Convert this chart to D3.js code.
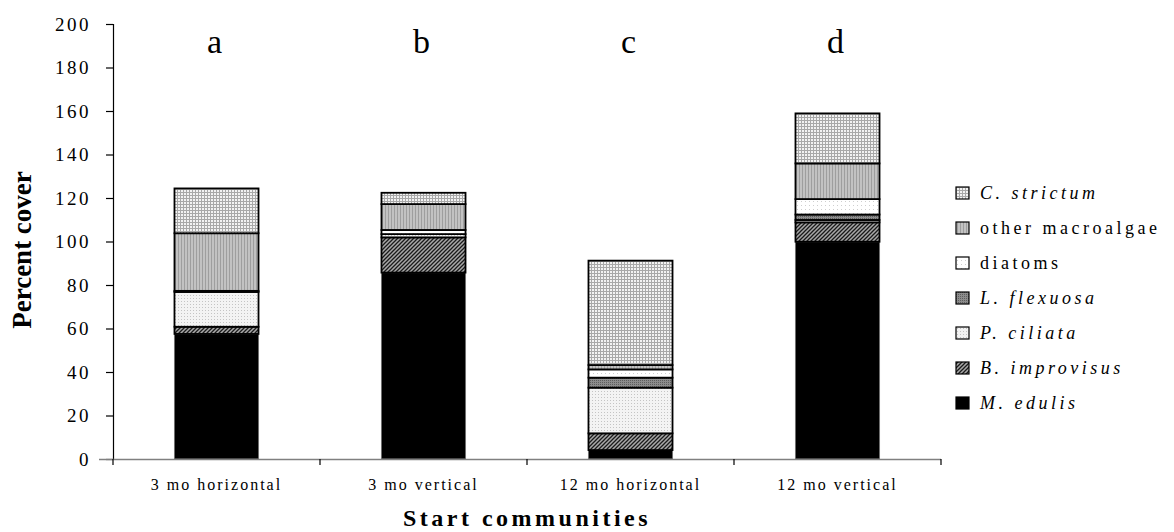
<!DOCTYPE html>
<html>
<head>
<meta charset="utf-8">
<script src="https://cdn.jsdelivr.net/npm/d3@7"></script>
<style>
  html, body { margin: 0; padding: 0; background: #fff; }
  svg { display: block; }
</style>
</head>
<body>
<svg id="chart" width="1174" height="532"></svg>
<script>
// Start communities and their group letters
const categories = ["3 mo horizontal", "3 mo vertical", "12 mo horizontal", "12 mo vertical"];
const groupLetters = ["a", "b", "c", "d"];

// Stacking order, bottom to top
const speciesKeys = ["M. edulis", "B. improvisus", "P. ciliata", "L. flexuosa", "diatoms", "other macroalgae", "C. strictum"];
const italicKeys = ["M. edulis", "B. improvisus", "P. ciliata", "L. flexuosa", "C. strictum"];

// Percent cover per start community
const mEdulis         = [57.5, 85.7,  4.1, 99.9];
const bImprovisus     = [ 3.3, 16.2,  7.7,  8.9];
const pCiliata        = [16.0,  1.5, 21.0,  1.1];
const lFlexuosa       = [ 0.0,  0.0,  4.6,  2.5];
const diatoms         = [ 0.5,  1.9,  3.8,  7.1];
const otherMacroalgae = [26.5, 11.9,  2.0, 16.4];
const cStrictum       = [20.6,  5.2, 48.0, 23.0];

const yTicks = [0, 20, 40, 60, 80, 100, 120, 140, 160, 180, 200];

const seriesValues = {
  "M. edulis": mEdulis,
  "B. improvisus": bImprovisus,
  "P. ciliata": pCiliata,
  "L. flexuosa": lFlexuosa,
  "diatoms": diatoms,
  "other macroalgae": otherMacroalgae,
  "C. strictum": cStrictum
};

const rows = categories.map((c, i) => {
  const r = { category: c };
  speciesKeys.forEach(k => { r[k] = seriesValues[k][i]; });
  return r;
});

const serif = "Liberation Serif";
const svg = d3.select("#chart").attr("font-family", serif);
const defs = svg.append("defs");

// Fill textures for each species
function pattern(id, w, h, bg, draw) {
  const p = defs.append("pattern").attr("id", id)
    .attr("width", w).attr("height", h).attr("patternUnits", "userSpaceOnUse");
  p.append("rect").attr("width", w).attr("height", h).attr("fill", bg);
  draw(p);
}
pattern("pat-bimp", 4, 4, "#a8a8a8", p => {
  p.append("path").attr("d", "M-1,1 L1,-1 M0,4 L4,0 M3,5 L5,3")
    .attr("stroke", "#1a1a1a").attr("stroke-width", 1.3);
});
pattern("pat-pcil", 3, 3, "#f3f3f3", p => {
  p.append("rect").attr("x", 1).attr("y", 1).attr("width", 1).attr("height", 1).attr("fill", "#c4c4c4");
});
pattern("pat-lflex", 2, 2, "#8c8c8c", p => {
  p.append("rect").attr("width", 1).attr("height", 1).attr("fill", "#5e5e5e");
});
pattern("pat-diat", 4, 4, "#ffffff", p => {
  p.append("rect").attr("x", 1).attr("y", 1).attr("width", 1).attr("height", 1).attr("fill", "#cfcfcf");
});
pattern("pat-other", 3, 3, "#c2c2c2", p => {
  p.append("rect").attr("x", 1).attr("width", 1).attr("height", 3).attr("fill", "#9e9e9e");
});
pattern("pat-cstr", 3, 3, "#f2f2f2", p => {
  p.append("path").attr("d", "M0,0.5 H3 M0.5,0 V3")
    .attr("stroke", "#a8a8a8").attr("stroke-width", 1);
});

const fills = {
  "M. edulis": "#000000",
  "B. improvisus": "url(#pat-bimp)",
  "P. ciliata": "url(#pat-pcil)",
  "L. flexuosa": "url(#pat-lflex)",
  "diatoms": "url(#pat-diat)",
  "other macroalgae": "url(#pat-other)",
  "C. strictum": "url(#pat-cstr)"
};

// Plot area
const x0 = 113, x1 = 941, yBottom = 459, yTop = 24;

const x = d3.scaleBand().domain(categories).range([x0, x1])
  .paddingInner(0.594).paddingOuter(0.297);
const y = d3.scaleLinear().domain([0, 200]).range([yBottom, yTop]);

const stacked = d3.stack().keys(speciesKeys)(rows);

// Bars
const layers = svg.append("g").selectAll("g").data(stacked).join("g")
  .attr("fill", d => fills[d.key])
  .attr("stroke", d => d.key === "M. edulis" ? "#707070" : "#000")
  .attr("stroke-width", d => d.key === "M. edulis" ? 1 : 1.8);

layers.selectAll("rect").data(d => d).join("rect")
  .attr("x", d => x(d.data.category))
  .attr("y", d => y(d[1]))
  .attr("width", x.bandwidth())
  .attr("height", d => Math.max(0, y(d[0]) - y(d[1])));

// Y axis
const yAxis = svg.append("g").attr("transform", `translate(${x0},0)`)
  .call(d3.axisLeft(y).tickValues(yTicks).tickSize(7).tickPadding(15))
  .attr("font-family", serif).attr("font-size", 19);
yAxis.select(".domain").attr("stroke", "#000").attr("stroke-width", 1.2);
yAxis.selectAll(".tick line").attr("stroke", "#000").attr("stroke-width", 1.2);
yAxis.selectAll(".tick text").attr("fill", "#000").attr("letter-spacing", 2.5);

// X axis with boundary ticks between bands
const step = x.step();
const xAxis = svg.append("g");
xAxis.append("line")
  .attr("x1", x0 - 14).attr("x2", x1)
  .attr("y1", yBottom + 0.5).attr("y2", yBottom + 0.5)
  .attr("stroke", "#808080").attr("stroke-width", 1.5);
xAxis.selectAll("line.tick").data(d3.range(categories.length + 1)).join("line")
  .attr("class", "tick")
  .attr("x1", i => x0 + i * step).attr("x2", i => x0 + i * step)
  .attr("y1", yBottom).attr("y2", yBottom + 6)
  .attr("stroke", "#000").attr("stroke-width", 1.2);
xAxis.selectAll("text").data(categories).join("text")
  .attr("x", d => x(d) + x.bandwidth() / 2)
  .attr("y", 490)
  .attr("text-anchor", "middle")
  .attr("font-size", 16).attr("letter-spacing", 2)
  .text(d => d);

// Group letters above bars
svg.append("g").selectAll("text").data(categories).join("text")
  .attr("x", d => x(d) + x.bandwidth() / 2 - 2)
  .attr("y", 53)
  .attr("text-anchor", "middle")
  .attr("font-size", 34)
  .text((d, i) => groupLetters[i]);

// Axis titles
svg.append("text")
  .attr("transform", `translate(31,250) rotate(-90)`)
  .attr("text-anchor", "middle")
  .attr("font-weight", "bold").attr("font-size", 27)
  .text("Percent cover");

svg.append("text")
  .attr("x", (x0 + x1) / 2).attr("y", 526)
  .attr("text-anchor", "middle")
  .attr("font-weight", "bold").attr("font-size", 24).attr("letter-spacing", 3.5)
  .text("Start communities");

// Legend, top to bottom in reverse stacking order
const legendKeys = speciesKeys.slice().reverse();
const legend = svg.append("g").selectAll("g").data(legendKeys).join("g")
  .attr("transform", (d, i) => `translate(956,${193 + i * 35})`);
legend.append("rect")
  .attr("x", 0).attr("y", -6).attr("width", 13).attr("height", 12)
  .attr("fill", d => fills[d]).attr("stroke", "#000").attr("stroke-width", 1.2);
legend.append("text")
  .attr("x", 24).attr("y", 6)
  .attr("font-size", 18).attr("letter-spacing", 3.5)
  .attr("font-style", d => italicKeys.includes(d) ? "italic" : "normal")
  .text(d => d);
</script>
</body>
</html>
